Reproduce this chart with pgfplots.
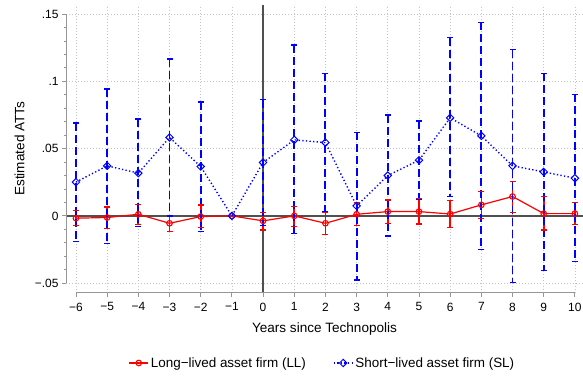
\documentclass[border=0pt]{standalone}
\usepackage{pgfplots}
\pgfplotsset{compat=1.18}
\usepackage{pgfplotstable}
\usepackage{fontspec}
\setmainfont{Liberation Sans}

\definecolor{axgray}{RGB}{150,150,150}
\definecolor{zeroline}{RGB}{80,80,80}
\definecolor{gridgray}{RGB}{195,195,195}

% point estimates
\pgfplotstableread{
x y
-6 -0.0017
-5 -0.0012
-4 0.0012
-3 -0.0055
-2 -0.0005
-1 0
0 -0.0037
1 0.0000
2 -0.0055
3 0.0012
4 0.0032
5 0.0032
6 0.0014
7 0.0082
8 0.0144
9 0.0017
10 0.0017
}\LL

\pgfplotstableread{
x y
-6 0.0251
-5 0.0372
-4 0.0318
-3 0.0583
-2 0.0367
-1 0
0 0.0397
1 0.0565
2 0.0545
3 0.0074
4 0.0300
5 0.0414
6 0.0729
7 0.0595
8 0.0372
9 0.0327
10 0.0280
}\SL

% confidence intervals: lower and upper bound per year
\pgfplotstableread{
x v
-6 -0.0074
-6 0.0039
-6 nan
-5 -0.0092
-5 0.0065
-5 nan
-4 -0.0062
-4 0.0084
-4 nan
-3 -0.0114
-3 0.0005
-3 nan
-2 -0.0087
-2 0.0080
-2 nan
0 -0.0104
0 0.0025
0 nan
1 -0.0077
1 0.0069
1 nan
2 -0.0136
2 0.0025
2 nan
3 -0.0074
3 0.0098
3 nan
4 -0.0055
4 0.0119
4 nan
5 -0.0061
5 0.0125
5 nan
6 -0.0086
6 0.0114
6 nan
7 -0.0017
7 0.0181
7 nan
8 0.0026
8 0.0257
8 nan
9 -0.0104
9 0.0144
9 nan
10 -0.0065
10 0.0099
}\LLci

\pgfplotstableread{
x v
-6 0.0690
-6 -0.0191
-6 nan
-5 0.0943
-5 -0.0203
-5 nan
-4 0.0720
-4 -0.0080
-4 nan
-3 0.1166
-3 0.0000
-3 nan
-2 0.0846
-2 -0.0115
-2 nan
0 0.0863
0 -0.0072
0 nan
1 0.1270
1 -0.0132
1 nan
2 0.1060
2 0.0032
2 nan
3 0.0620
3 -0.0476
3 nan
4 0.0749
4 -0.0149
4 nan
5 0.0705
5 0.0124
5 nan
6 0.1324
6 0.0144
6 nan
7 0.1438
7 -0.0248
7 nan
8 0.1235
8 -0.0496
8 nan
9 0.1060
9 -0.0407
9 nan
10 0.0903
10 -0.0340
}\SLci

\begin{document}
\begin{tikzpicture}
\begin{axis}[
  scale only axis,
  width=517bp, height=288bp,
  xmin=-6.32, xmax=10.26, ymin=-0.0571, ymax=0.157,
  clip=false,
  unbounded coords=jump,
  axis line style={draw=none},
  tick pos=left,
  tick align=outside,
  major tick length=4bp, minor tick length=2.5bp,
  every tick/.style={axgray, line width=0.9bp},
  xtick={-6,-5,-4,-3,-2,-1,0,1,2,3,4,5,6,7,8,9,10},
  xticklabels={−6,−5,−4,−3,−2,−1,0,1,2,3,4,5,6,7,8,9,10},
  ytick={-0.05,0,0.05,0.1,0.15},
  yticklabels={−.05,0,.05,.1,.15},
  minor y tick num=4,
  scaled y ticks=false,
  grid=major,
  major grid style={gridgray, line width=0.7bp, dash pattern=on 0.7bp off 2.3bp},
  tick label style={font=\fontsize{12}{14}\selectfont},
  xticklabel style={yshift=-2.5bp},
  xlabel={Years since Technopolis},
  ylabel={Estimated ATTs},
  label style={font=\fontsize{13.6}{16}\selectfont},
  xlabel style={at={(axis description cs:0.5,-0.126)}, anchor=center},
  ylabel style={at={(axis description cs:-0.09,0.5)}, anchor=center},
  legend style={at={(axis description cs:0.496,-0.244)}, anchor=center, draw=none, fill=none,
    legend columns=2, font=\fontsize{13.5}{16}\selectfont,
    /tikz/every even column/.append style={column sep=25bp}},
  legend image code/.code={%
    \draw[mark repeat=2,mark phase=2] plot coordinates {(0bp,0bp) (9.5bp,0bp) (19bp,0bp)};},
  legend cell align=left,
]
\coordinate (sw) at (rel axis cs:0,0);
\draw[zeroline, line width=1.4bp] (axis cs:-6.32,0) -- (axis cs:10.26,0);
\draw[zeroline, line width=1.4bp] (axis cs:0,-0.0571) -- (axis cs:0,0.157);
\draw[axgray, line width=1bp] (axis cs:-6.32,-0.05) -- (axis cs:-6.32,0.15);
\draw[axgray, line width=1bp] (axis cs:-6,-0.0571) -- (axis cs:10,-0.0571);

% LL confidence intervals
\addplot[forget plot, color=red, solid, line width=1.7bp, mark=-, mark size=3bp, mark options={solid, line width=1.3bp}]
  table[x=x, y=v] {\LLci};
% LL estimates
\addplot[color=red, line width=1.2bp, mark=o, mark size=2.8bp, mark options={solid, line width=1.1bp, fill=white}]
  table[x=x, y=y] {\LL};
\addlegendentry{Long−lived asset firm (LL)}

% SL confidence intervals
\addplot[forget plot, color=blue, line width=1.9bp, dash pattern=on 8bp off 4bp, mark=-, mark size=3bp, mark options={solid, line width=1.3bp}]
  table[x=x, y=v] {\SLci};
% SL estimates
\addplot[color=blue, line width=1.4bp, dash pattern=on 1.3bp off 2.3bp, mark=square, mark size=2.6bp,
  mark options={solid, line width=1bp, rotate=45, fill=white}]
  table[x=x, y=y] {\SL};
\addlegendentry{Short−lived asset firm (SL)}
\end{axis}
\pgfresetboundingbox
\path (sw) ++(-66bp,-84.3bp) rectangle ++(583bp,377bp);
\end{tikzpicture}
\end{document}
